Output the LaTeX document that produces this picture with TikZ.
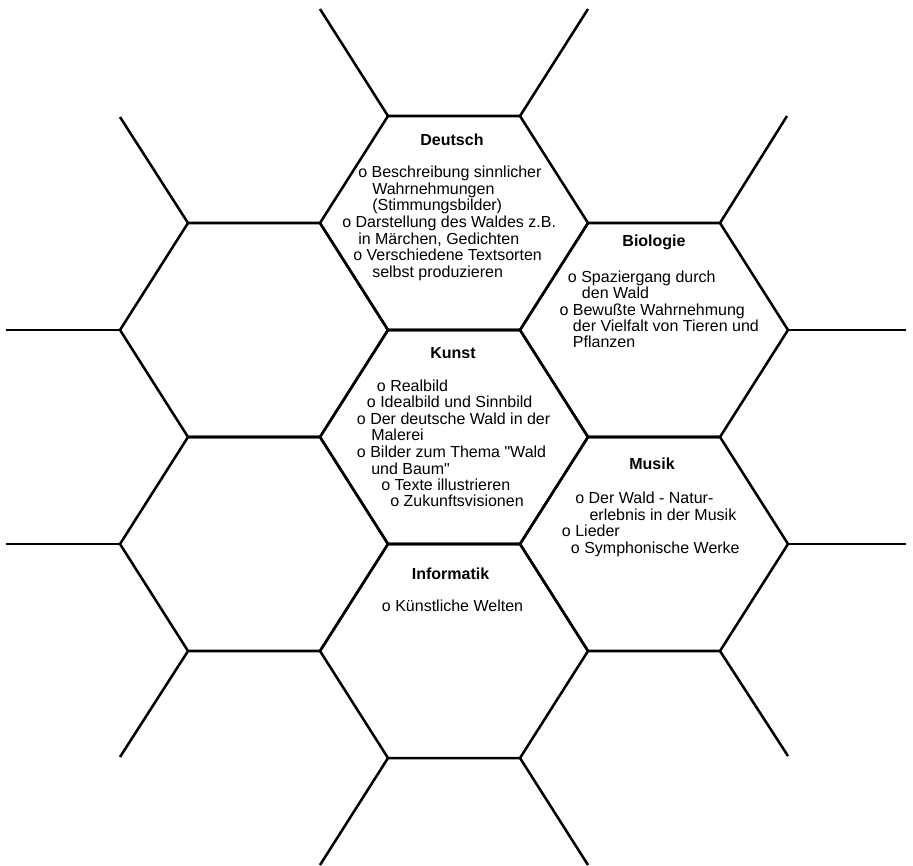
\documentclass[tikz,border=0pt]{standalone}
\usepackage{fontspec}
\setmainfont{Liberation Sans}[Ligatures=TeXOff]
\begin{document}
\begin{tikzpicture}[x=0.75pt,y=-0.75pt,
  hex/.style={line width=1.9pt,line join=miter,line cap=butt},
  ttl/.style={anchor=base,inner sep=0pt,font=\bfseries\fontsize{12}{14}\selectfont},
  itm/.style={anchor=base west,inner sep=0pt,font=\fontsize{12}{14}\selectfont}]
\useasboundingbox (0,0) rectangle (913,865);
% central column
\draw[hex] (388,116) -- (520,116) -- (588,223) -- (520,330) -- (388,330) -- (320,223) -- cycle;
\draw[hex] (388,330) -- (520,330) -- (588,437) -- (520,544) -- (388,544) -- (320,437) -- cycle;
\draw[hex] (388,544) -- (520,544) -- (588,651) -- (520,758) -- (388,758) -- (320,651) -- cycle;
% right column
\draw[hex] (588,223) -- (720,223) -- (788,330) -- (720,437) -- (588,437) -- (520,330) -- cycle;
\draw[hex] (588,437) -- (720,437) -- (788,544) -- (720,651) -- (588,651) -- (520,544) -- cycle;
% left column
\draw[hex] (188,223) -- (320,223) -- (388,330) -- (320,437) -- (188,437) -- (120,330) -- cycle;
\draw[hex] (188,437) -- (320,437) -- (388,544) -- (320,651) -- (188,651) -- (120,544) -- cycle;
% stubs
\draw[hex] (388,116) -- (320,9);
\draw[hex] (520,116) -- (588,9);
\draw[hex] (188,223) -- (120,117);
\draw[hex] (120,330) -- (6,330);
\draw[hex] (120,544) -- (6,544);
\draw[hex] (188,651) -- (120,757);
\draw[hex] (720,223) -- (787,116);
\draw[hex] (788,330) -- (906,330);
\draw[hex] (788,544) -- (906,544);
\draw[hex] (720,651) -- (788,756);
\draw[hex] (388,758) -- (320,865);
\draw[hex] (520,758) -- (588,865);
% Deutsch
\node[ttl] (dT) at (452,145) {Deutsch};
\node[itm] (d1) at (358,177.5) {o Beschreibung sinnlicher};
\node[itm] (d2) at (372,194) {Wahrnehmungen};
\node[itm] (d3) at (372,210.5) {(Stimmungsbilder)};
\node[itm] (d4) at (342,227.2) {o Darstellung des Waldes z.B.};
\node[itm] (d5) at (358,244) {in Märchen, Gedichten};
\node[itm] (d6) at (353,260.7) {o Verschiedene Textsorten};
\node[itm] (d7) at (372,277.3) {selbst produzieren};
% Biologie
\node[ttl] (bT) at (654,246.7) {Biologie};
\node[itm] (b1) at (567.7,282.3) {o Spaziergang durch};
\node[itm] (b2) at (581.7,298.7) {den Wald};
\node[itm] (b3) at (559.3,315) {o Bewußte Wahrnehmung};
\node[itm] (b4) at (572.7,331.3) {der Vielfalt von Tieren und};
\node[itm] (b5) at (572.7,347.7) {Pflanzen};
% Kunst
\node[ttl] (kT) at (453,358.3) {Kunst};
\node[itm] (k1) at (376.7,391.7) {o Realbild};
\node[itm] (k2) at (366.7,407.9) {o Idealbild und Sinnbild};
\node[itm] (k3) at (356.7,424.3) {o Der deutsche Wald in der};
\node[itm] (k4) at (371,440.7) {Malerei};
\node[itm] (k5) at (356.7,457.4) {o Bilder zum Thema "Wald};
\node[itm] (k6) at (371,474) {und Baum"};
\node[itm] (k7) at (381,490.3) {o Texte illustrieren};
\node[itm] (k8) at (390,506.7) {o Zukunftsvisionen};
% Musik
\node[ttl] (mT) at (652,469.3) {Musik};
\node[itm] (m1) at (575,503.3) {o Der Wald - Natur-};
\node[itm] (m2) at (589.3,520) {erlebnis in der Musik};
\node[itm] (m3) at (561.7,536.7) {o Lieder};
\node[itm] (m4) at (570.7,553.3) {o Symphonische Werke};
% Informatik
\node[ttl] (iT) at (450.5,579) {Informatik};
\node[itm] (i1) at (381.7,611.7) {o Künstliche Welten};
\end{tikzpicture}
\end{document}
